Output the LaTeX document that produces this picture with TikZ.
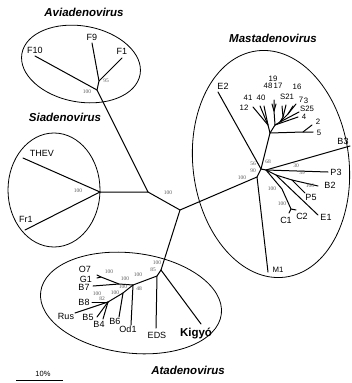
\documentclass[tikz,border=0pt]{standalone}
\usepackage{fontspec}
\setmainfont{Liberation Sans}
\newfontfamily\bootfont{Liberation Serif}
\begin{document}
\begin{tikzpicture}[x=1pt, y=-1pt,
    leaf/.style = {inner sep=0pt, font=\fontsize{9}{10}\selectfont},
    small/.style = {inner sep=0pt, font=\fontsize{7.8}{8}\selectfont},
    boot/.style = {inner sep=0pt, text=black!65, font=\bootfont\fontsize{5.5}{6}\selectfont},
    clade/.style = {inner sep=0pt, font=\fontsize{11.5}{12}\selectfont\bfseries\itshape},
    branch/.style = {line width=1pt, line cap=round},
    ring/.style = {line width=0.8pt}]
  \useasboundingbox (0,0) rectangle (351,383);

  % clades
  \draw[ring, rotate around={-10:(81,64)}] (81,64) ellipse [x radius=60, y radius=38];
  \draw[ring] (54,190) ellipse [x radius=46, y radius=57];
  \draw[ring, rotate around={7:(271,164)}] (271,164) ellipse [x radius=78, y radius=114];
  \draw[ring, rotate around={-7:(131,303)}] (131,303) ellipse [x radius=91, y radius=50];

  \node (avi) at (84,12) [clade] {Aviadenovirus};
  \node (sia) at (65,117) [clade] {Siadenovirus};
  \node (mast) at (273,38) [clade] {Mastadenovirus};
  \node (ata) at (188,370) [clade] {Atadenovirus};

  % backbone
  \coordinate (j1) at (148,192);
  \coordinate (j2) at (180,210);
  \coordinate (a0) at (97,90);
  \coordinate (s0) at (100,192);
  \coordinate (m1) at (257,177);
  \coordinate (t1) at (161,270);
  \draw[branch] (a0) -- (j1) -- (s0);
  \draw[branch] (j1) -- (j2) -- (m1);
  \draw[branch] (j2) -- (t1);
  \node (b-j1) at (168,193) [boot] {100};

  % Aviadenovirus
  \coordinate (a1) at (99,81);
  \coordinate (F10) at (35,56);
  \coordinate (F9) at (92,43);
  \coordinate (F1) at (122,58);
  \draw[branch] (a0) -- (F10);
  \draw[branch] (a0) -- (a1) -- (F9);
  \draw[branch] (a1) -- (F1);
  \node (tF10) at (35,50) [leaf] {F10};
  \node (tF9) at (92,37) [leaf] {F9};
  \node (tF1) at (122,51) [leaf] {F1};
  \node (b-a0) at (87,92) [boot] {100};
  \node (b-a1) at (106,81) [boot] {95};

  % Siadenovirus
  \coordinate (THEV) at (23,158);
  \coordinate (Fr1) at (25,230);
  \draw[branch] (THEV) -- (s0) -- (Fr1);
  \node (tTHEV) at (42,153) [leaf] {THEV};
  \node (tFr1) at (26,219) [leaf] {Fr1};
  \node (b-s0) at (78,191) [boot] {100};

  % Mastadenovirus
  \coordinate (m2) at (261,169);
  \coordinate (m3) at (266,170);
  \coordinate (M1) at (268,272);
  \coordinate (E2) at (218,92);
  \draw[branch] (m1) -- (M1);
  \draw[branch] (m1) -- (m2) -- (E2);
  \draw[branch] (m2) -- (m3);
  \node (tM1) at (278,270) [small] {M1};
  \node (tE2) at (223,86) [leaf] {E2};
  \node (b-m1) at (242,178) [boot] {100};
  \node (b-56) at (253,164) [boot] {56};
  \node (b-90) at (253,171) [boot] {90};
  \node (b-68) at (268,162) [boot] {68};

  \coordinate (h1) at (270,133);
  \coordinate (h2) at (303,132);
  \coordinate (ha) at (268,125);
  \coordinate (hb) at (275,125);
  \coordinate (hc) at (274,111);
  \coordinate (hd) at (280,122);
  \coordinate (he) at (283,117);
  \coordinate (hf) at (288,114);
  \coordinate (H2) at (312,125);
  \coordinate (H5) at (313,132);
  \coordinate (H12) at (253,107);
  \coordinate (H41) at (260,106);
  \coordinate (H40) at (264,106);
  \coordinate (H19) at (274,100);
  \coordinate (H48) at (272,104);
  \coordinate (H17) at (276,104);
  \coordinate (HS21a) at (282,106);
  \coordinate (HS21b) at (286,105);
  \coordinate (H7) at (293,106);
  \coordinate (H3) at (296,104);
  \coordinate (HS25) at (299,112);
  \coordinate (H4) at (298,117);
  \draw[branch] (m2) -- (h1) -- (h2) -- (H5);
  \draw[branch] (h2) -- (H2);
  \draw[branch] (h1) -- (ha) -- (H12);
  \draw[branch] (ha) -- (H41);
  \draw[branch] (ha) -- (H40);
  \draw[branch] (h1) -- (hb) -- (hc) -- (H19);
  \draw[branch] (hc) -- (H48);
  \draw[branch] (hc) -- (H17);
  \draw[branch] (hb) -- (hd) -- (he) -- (HS21a);
  \draw[branch] (he) -- (HS21b);
  \draw[branch] (hd) -- (hf) -- (H7);
  \draw[branch] (hf) -- (H3);
  \draw[branch] (hd) -- (HS25);
  \draw[branch] (hb) -- (H4);
  \node (t19) at (273,79) [small] {19};
  \node (t48) at (268,86) [small] {48};
  \node (t17) at (278,86) [small] {17};
  \node (t16) at (297,87) [small] {16};
  \node (t41) at (248,98) [small] {41};
  \node (t40) at (261,98) [small] {40};
  \node (tS21) at (287,97) [small] {S21};
  \node (t7) at (301,100) [small] {7};
  \node (t3) at (306,101) [small] {3};
  \node (t12) at (244,108) [small] {12};
  \node (tS25) at (307,109) [small] {S25};
  \node (t4) at (304,117) [small] {4};
  \node (t2) at (318,122) [small] {2};
  \node (t5) at (319,133) [small] {5};

  \coordinate (n2) at (276,175);
  \coordinate (n3) at (292,180);
  \coordinate (n4) at (282,189);
  \coordinate (n5) at (291,209);
  \coordinate (B3) at (350,146);
  \coordinate (P3) at (328,172);
  \coordinate (B2) at (318,186);
  \coordinate (P5) at (305,193);
  \coordinate (E1) at (318,215);
  \coordinate (C1) at (289,213);
  \coordinate (C2) at (296,210);
  \draw[branch] (m3) -- (B3);
  \draw[branch] (m3) -- (P3);
  \draw[branch] (m3) -- (n2) -- (n3) -- (B2);
  \draw[branch] (n3) -- (P5);
  \draw[branch] (n2) -- (E1);
  \draw[branch] (m3) -- (n4) -- (n5) -- (C1);
  \draw[branch] (n5) -- (C2);
  \node (tB3) at (343,141) [leaf] {B3};
  \node (tP3) at (336,172) [leaf] {P3};
  \node (tB2) at (330,185) [leaf] {B2};
  \node (tP5) at (311,197) [leaf] {P5};
  \node (tE1) at (326,217) [leaf] {E1};
  \node (tC2) at (302,216) [leaf] {C2};
  \node (tC1) at (286,220) [leaf] {C1};
  \node (b-30) at (296,166) [boot] {30};
  \node (b-39) at (302,173) [boot] {39};
  \node (b-n3) at (310,186) [boot] {100};
  \node (b-n4) at (272,189) [boot] {100};
  \node (b-n5) at (282,204) [boot] {100};

  % Atadenovirus
  \coordinate (t2) at (157,276);
  \coordinate (t3) at (133,285);
  \coordinate (t4) at (119,284);
  \coordinate (ga) at (101,277);
  \coordinate (t5) at (123,293);
  \coordinate (t6) at (108,302);
  \coordinate (Kigyo) at (201,324);
  \coordinate (EDS) at (156,328);
  \coordinate (Od1) at (131,325);
  \coordinate (O7) at (97,275);
  \coordinate (G1) at (97,278);
  \coordinate (B7) at (93,286);
  \coordinate (B6) at (119,317);
  \coordinate (Rus) at (75,313);
  \coordinate (B8) at (92,302);
  \coordinate (B5) at (97,317);
  \coordinate (B4) at (103,319);
  \draw[branch] (t1) -- (Kigyo);
  \draw[branch] (t1) -- (t2) -- (EDS);
  \draw[branch] (t2) -- (t3) -- (Od1);
  \draw[branch] (t3) -- (t4) -- (B7);
  \draw[branch] (t4) -- (ga) -- (O7);
  \draw[branch] (ga) -- (G1);
  \draw[branch] (t3) -- (t5) -- (B6);
  \draw[branch] (t5) -- (t6) -- (Rus);
  \draw[branch] (t6) -- (B8);
  \draw[branch] (t6) -- (B5);
  \draw[branch] (t6) -- (B4);
  \node (tKigyo) at (196,333) [inner sep=0pt, font=\fontsize{11.5}{12}\selectfont\bfseries] {Kigyó};
  \node (tEDS) at (157,335) [leaf] {EDS};
  \node (tOd1) at (128,329) [leaf] {Od1};
  \node (tB6) at (115,321) [leaf] {B6};
  \node (tB4) at (99,324) [leaf] {B4};
  \node (tB5) at (88,317) [leaf] {B5};
  \node (tRus) at (66,316) [leaf] {Rus};
  \node (tB8) at (84,302) [leaf] {B8};
  \node (tB7) at (84,287) [leaf] {B7};
  \node (tG1) at (86,279) [leaf] {G1};
  \node (tO7) at (85,269) [leaf] {O7};
  \node (b-t1) at (157,263) [boot] {100};
  \node (b-t2) at (153,270) [boot] {85};
  \node (b-t3) at (138,275) [boot] {100};
  \node (b-t4) at (125,279) [boot] {100};
  \node (b-ga) at (109,272) [boot] {100};
  \node (b-48) at (139,289) [boot] {48};
  \node (b-t5) at (123,287) [boot] {100};
  \node (b-t6) at (115,293) [boot] {100};
  \node (b-82) at (102,299) [boot] {82};
  \node (b-B8) at (97,294) [boot] {100};

  % scale
  \coordinate (sc0) at (16,380);
  \coordinate (sc1) at (63,380);
  \draw[line width=0.8pt] (sc0) -- (sc1);
  \node (tscale) at (43,374) [inner sep=0pt, font=\fontsize{7.5}{8}\selectfont] {10\%};
\end{tikzpicture}
\end{document}
